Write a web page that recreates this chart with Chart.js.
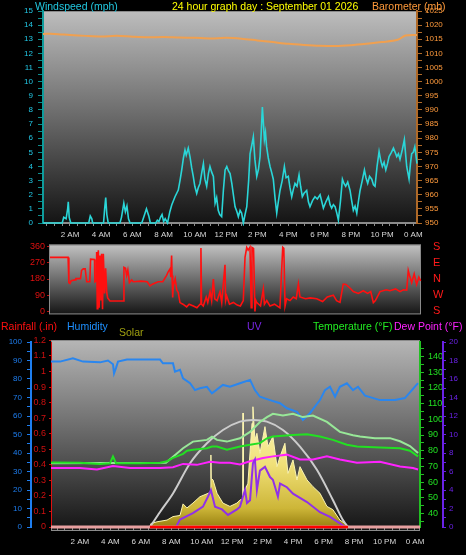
<!DOCTYPE html>
<html><head><meta charset="utf-8">
<script src="https://cdn.jsdelivr.net/npm/chart.js@4.4.1/dist/chart.umd.min.js"></script>
<style>
html,body{margin:0;padding:0;background:#000;}
body{width:466px;height:555px;overflow:hidden;position:relative;font-family:"Liberation Sans",Arial,sans-serif;}
canvas{position:absolute;left:0;}
.t{position:absolute;font-size:10.5px;line-height:12px;white-space:nowrap;}
</style></head><body>
<canvas id="wind" width="466" height="245" style="top:0"></canvas>
<canvas id="dir" width="466" height="102" style="top:228px"></canvas>
<canvas id="wx" width="466" height="225" style="top:330px"></canvas>
<div class="t" style="left:35px;top:0;color:#22c8e0">Windspeed (mph)</div>
<div class="t" style="left:172px;top:0;color:#ffff00">24 hour graph day : September 01 2026</div>
<div class="t" style="left:372px;top:0;color:#ff9a3a">Barometer (mb)</div>
<div class="t" style="left:1px;top:320px;color:#ff1010">Rainfall (.in)</div>
<div class="t" style="left:67px;top:320px;color:#1e90ff">Humidity</div>
<div class="t" style="left:119px;top:326px;color:#a0a010">Solar</div>
<div class="t" style="left:247px;top:320px;color:#7a26e6">UV</div>
<div class="t" style="left:313px;top:320px;color:#22ee22">Temperature (°F)</div>
<div class="t" style="left:394px;top:320px;color:#ff22ff">Dew Point (°F)</div>
<script>
// ---------- tick labels ----------
const hourTickValues = [2,4,6,8,10,12,14,16,18,20,22,24];
const hourTickLabels = ['2 AM','4 AM','6 AM','8 AM','10 AM','12 PM','2 PM','4 PM','6 PM','8 PM','10 PM','0 AM'];
const compassLetters = ['S','W','N','E','S']; // 0, 90, 180, 270, 360

// ---------- wind speed (mph) ----------
const windHours = [
 0.27,1.5,1.6,1.75,1.85,1.89,1.95,2.05,
 3.2,3.3,3.4,3.45,
 4.15,4.22,4.29,4.36,4.45,
 5.2,5.3,5.45,5.55,5.65,5.75,5.85,
 6.6,6.75,6.9,7.05,7.15,
 7.5,7.6,7.7,7.8,7.9,8.0,8.1,8.25,
 8.4,8.52,8.73,8.94,9.05,9.16,9.27,9.37,9.45,9.58,
 9.69,9.8,9.9,10.0,10.12,10.22,10.33,10.45,10.55,10.65,
 10.76,10.87,10.97,11.08,11.19,11.3,11.4,11.5,11.6,11.72,
 11.83,11.94,12.05,12.15,12.26,12.37,12.58,12.7,12.79,12.9,
 13.0,13.11,13.22,13.33,13.45,13.54,13.65,13.75,13.85,13.97,
 14.08,14.18,14.26,14.33,14.4,14.46,14.53,14.6,14.71,14.82,
 14.92,15.03,15.14,15.25,15.35,15.46,15.6,15.74,15.85,15.99,
 16.1,16.21,16.32,16.42,16.55,16.68,16.78,16.89,17.0,17.17,
 17.28,17.38,17.55,17.7,17.85,18.03,18.14,18.24,18.4,18.56,
 18.67,18.77,18.88,18.99,19.1,19.2,19.33,19.46,19.56,19.67,
 19.8,19.95,20.05,20.16,20.27,20.38,20.48,20.59,20.73,20.87,
 20.97,21.08,21.2,21.34,21.45,21.55,21.68,21.81,21.92,22.02,
 22.13,22.24,22.35,22.45,22.6,22.73,22.84,22.94,23.05,23.15,
 23.3,23.43,23.5,23.58,23.73,23.82,23.9,24.0,24.1,24.24];
const windMph = [
 0,0,0.4,0.3,1.0,1.5,0.4,0,
 0,0.5,0.3,0,
 0,1.0,1.8,0.6,0,
 0,0.4,1.4,0.8,1.2,0.3,0,
 0,0.5,1.0,0.5,0,
 0,0.2,0.1,0.4,0.6,0.1,0.3,0,
 0.8,1.27,1.86,2.33,3.0,3.75,4.6,5.17,4.8,5.3,
 4.7,3.9,3.3,2.6,2.1,2.5,2.8,3.6,4.2,3.1,
 2.6,3.5,4.0,3.6,3.3,1.4,1.8,0.9,0.6,0.45,
 2.3,3.75,4.0,3.7,3.5,2.8,1.15,0.8,0.45,0.9,
 0.7,0,0.6,1.15,3.0,4.9,5.5,6.1,4.5,3.3,
 3.8,4.7,6.5,8.2,7.0,5.9,6.4,5.4,4.6,4.0,
 3.6,3.1,1.8,0.7,1.5,2.3,3.0,4.0,3.2,3.3,
 2.5,1.86,2.4,2.8,2.6,3.4,2.6,1.86,2.1,2.3,
 1.5,1.15,1.6,1.86,1.7,2.0,1.5,1.05,1.5,1.86,
 1.3,1.05,1.3,1.15,0.7,0.2,1.5,3.1,2.8,2.6,
 2.9,2.3,1.6,0.9,1.2,0.7,1.5,2.3,3.0,3.75,
 3.2,2.8,3.3,3.1,2.7,2.6,4.0,5.05,4.4,4.0,
 4.3,3.75,4.2,4.7,5.0,5.3,5.0,4.7,4.9,4.5,
 5.2,5.9,5.0,4.0,3.1,4.2,4.9,5.0,5.4,4.2];

// ---------- barometer (mb) ----------
const baroHours = [0.27,1,2,3,4,5,6,7,8,9,10,11,12,13,14,15,16,17,18,19,20,21,22,23,23.5,24.24];
const baroMb = [1016.9,1016.9,1016.5,1016.2,1016.0,1016.2,1015.9,1015.7,1015.8,1015.6,1015.5,1015.3,1015.5,1015.2,1014.6,1014.0,1013.4,1013.0,1012.7,1012.6,1012.9,1013.4,1014.0,1014.8,1016.3,1016.5];

// ---------- wind direction (deg) ----------
const dirHours = [
 0.33,1.50,1.55,1.62,1.70,1.95,2.0,2.3,2.37,2.48,
 2.6,2.70,2.9,2.95,3.2,3.23,3.30,3.34,3.38,3.42,
 3.45,3.50,3.56,3.62,3.66,3.72,3.77,3.85,3.92,3.99,
 4.05,4.20,5.05,5.10,5.2,5.27,5.35,5.45,5.6,5.7,
 6.2,6.6,6.78,6.9,7.3,7.6,7.85,7.95,8.07,8.12,
 8.17,8.2,8.24,8.28,8.4,8.5,8.6,8.71,8.9,9.14,
 9.3,9.57,9.8,10.0,10.06,10.1,10.21,10.4,10.5,10.65,
 10.75,10.86,10.95,11.1,11.29,11.4,11.61,11.65,11.72,11.9,
 12.15,12.4,12.6,12.79,12.9,13.01,13.1,13.22,13.3,13.35,
 13.45,13.54,13.6,13.65,13.9,14.08,14.15,14.3,14.51,14.8,
 15.15,15.33,15.4,15.48,15.58,15.8,16.01,16.2,16.34,16.44,
 16.8,17.1,17.52,17.9,18.2,18.59,18.8,19.02,19.23,19.4,
 19.66,19.88,20.2,20.52,20.8,21.0,21.17,21.3,21.60,22.0,
 22.24,22.6,22.89,23.1,23.32,23.42,23.5,23.64,23.8,23.96,
 24.1,24.22];
const dirDeg = [
 300,300,160,155,170,175,182,182,228,236,
 236,165,165,290,288,165,170,330,15,300,
 340,20,311,60,320,12,320,100,240,105,
 75,58,58,245,240,200,230,160,175,165,
 168,165,142,150,165,165,200,220,236,190,
 311,200,77,142,180,120,105,49,40,25,
 40,30,20,40,352,40,30,80,50,110,
 60,180,70,60,110,50,259,60,86,40,
 50,35,30,60,300,355,340,357,20,355,
 350,0,60,50,30,124,40,60,30,40,
 20,356,350,30,70,60,80,70,152,80,
 70,75,70,55,80,90,60,50,152,150,
 130,110,100,115,100,110,49,60,110,120,
 115,125,110,120,118,227,200,160,208,150,
 190,170];

// ---------- bottom panel ----------
const humHours = [0.10,0.69,1.54,2.20,3.32,3.84,4.17,4.24,4.37,4.50,5.09,7.26,7.45,8.11,8.24,8.57,8.77,9.23,9.55,9.88,10.34,10.67,11.39,11.85,12.51,13.17,13.49,13.82,14.48,15.14,15.59,16.25,16.64,17.10,17.76,18.09,18.42,18.75,19.07,19.53,19.93,20.26,20.72,21.70,22.69,23.34,23.80,24.20];
const humPct = [89.4,89.4,91.2,89.4,89,90,88,83,86,89.4,90.5,90.5,88.5,88.5,84,85,80.4,77.7,74,75,75.8,72.3,76.8,75.8,77.7,79.5,74,70.4,68.6,66.9,64.2,62.3,57.8,61.5,68.6,74,75.8,70.4,75.8,77.7,74,75.8,71,68.6,68.6,69.7,74,77.8];

const tempHours = [0.10,2.00,3.32,3.97,4.17,4.37,5.94,7.26,7.72,8.11,8.77,9.03,9.42,10.34,10.67,11.00,11.65,12.51,13.17,13.82,14.28,14.67,15.99,16.91,17.76,18.61,19.53,20.19,21.70,23.02,23.67,24.20];
const tempF = [72.5,72.3,71.5,72,76.4,72,72,72.3,73.3,75.4,78,80,80.6,81.6,82.7,82.7,80.6,82.7,83.8,84.8,87.9,89,90,90.5,89,86.9,83.8,82.7,82,81.6,80,76.4];

const feelsHours = [0.10,7.65,8.77,9.42,10.34,10.67,11.00,11.65,12.51,13.17,13.82,14.28,14.67,15.33,15.99,16.64,17.30,18.22,19.07,19.93,20.39,21.37,22.36,23.02,23.67,24.20];
const feelsF = [72,72.3,81.6,85.8,86.9,89,86.9,85.8,87.9,92,98.3,101.4,103.5,102.4,103.5,101.4,102.4,98.3,92,89.8,89,88,88,86,83,78.5];

const dewHours = [0.10,2.00,3.12,4.17,5.29,7.26,8.11,8.77,9.68,10.54,11.19,11.85,12.51,13.17,14.02,14.67,15.59,16.45,17.30,18.22,19.07,20.19,21.70,23.02,23.87,24.20];
const dewF = [69,69,68,70.2,69,69,69.5,71.6,71,73,72.3,72.3,71.3,73.3,75.4,76.4,77.5,74.4,74.4,76.4,74.4,72.3,73,70,69,68];

const uvHours = [8.31,8.37,8.57,9.42,10.08,10.41,10.60,10.87,11.33,11.72,12.31,12.51,12.84,12.97,13.17,13.36,13.49,13.62,13.82,14.15,14.48,14.67,15.00,15.14,15.59,15.99,16.91,17.76,18.42,19.07,19.40];
const uvIndex = [0,0.2,0.8,1.5,2.2,3.3,4.0,2.2,1.9,1.3,1.9,2.2,4.0,2.6,2.9,6.9,7.3,4.0,6.1,6.5,5.4,5.1,3.3,4.7,4.3,3.6,2.7,1.6,1.1,0.4,0];

const solarHours = [6.60,6.66,7.06,7.72,8.11,8.57,8.77,9.03,9.42,9.88,10.58,10.60,10.62,10.74,11.00,11.39,11.85,12.31,12.51,12.69,12.71,12.73,12.84,13.03,13.30,13.36,13.49,13.62,13.82,14.15,14.35,14.67,14.94,15.14,15.46,15.66,15.99,16.25,16.45,16.91,17.30,17.76,18.22,18.61,19.07,19.53,19.66];
const solarWm2 = [0,30,45,60,90,100,200,165,207,262,300,623,420,407,292,207,178,207,234,240,986,300,320,378,897,1040,753,810,637,868,695,782,522,609,724,464,580,407,522,407,349,292,178,150,60,20,0];

const solarMaxHours = [6.60,7.26,8.11,9.23,10.34,11.39,12.51,13.36,14.28,15.33,16.45,17.57,18.61,19.27,19.60];
const solarMaxWm2 = [0,130,290,551,724,839,911,925,911,839,695,493,234,60,0];

const rainHours = [0.10,24.33];
const rainIn = [0,0];
const daylightHours = [6.60,19.60];
const daylightIn = [0,0];

// ---------- helpers ----------
const NARROW = '"Liberation Sans Narrow","Liberation Sans",Arial,sans-serif';
Chart.defaults.font.family = NARROW;
Chart.defaults.font.size = 8;
Chart.defaults.animation = false;
const pts = (xs, ys) => xs.map((x, i) => ({x, y: ys[i]}));
const stepTicks = (a, b, s) => sc => { const t = []; for (let i = 0; a + i * s <= b + 1e-9; i++) t.push({value: Math.round((a + i * s) * 1000) / 1000}); sc.ticks = t; };

const bgPlugin = {
  id: 'bg',
  beforeDraw(chart, args, o) {
    const {ctx, chartArea: a} = chart;
    const top = a.top - (o.extTop || 0), bot = a.bottom + (o.extBottom || 0);
    const g = ctx.createLinearGradient(0, top, 0, bot);
    o.stops.forEach(([p, c]) => g.addColorStop(p, c));
    ctx.save();
    ctx.fillStyle = g;
    ctx.fillRect(a.left, top, a.right - a.left, bot - top);
    ctx.strokeStyle = o.frame; ctx.lineWidth = 1;
    ctx.strokeRect(a.left + 0.5, top + 0.5, a.right - a.left - 1, bot - top - 1);
    ctx.restore();
  }
};

function xAxis(min, max, height, tickLength, padding, display) {
  return {
    type: 'linear', min, max, display, position: 'bottom',
    afterBuildTicks: stepTicks(Math.ceil(min * 2) / 2, max, 0.5),
    ticks: { autoSkip: false, maxRotation: 0, color: '#d8d8d8', padding,
      callback: v => { const i = hourTickValues.indexOf(v); return i >= 0 ? hourTickLabels[i] : ''; } },
    grid: { drawOnChartArea: false, tickLength, tickColor: '#8c8c8c' },
    border: { color: '#8c8c8c' },
    afterFit: s => { s.height = height; }
  };
}
const line = (data, color, width, axis, extra) => Object.assign({
  data, borderColor: color, borderWidth: width, pointRadius: 0, tension: 0, yAxisID: axis, fill: false
}, extra || {});

// ---------- chart 1: wind speed + barometer ----------
new Chart(document.getElementById('wind'), {
  type: 'line',
  data: { datasets: [
    line(pts(baroHours, baroMb), '#f0a050', 2, 'baro', {tension: 0.3}),
    line(pts(windHours, windMph), '#2ad6d8', 1.6, 'wind', {clip: 3})
  ]},
  options: {
    responsive: false, devicePixelRatio: 1, parsing: false,
    layout: { padding: { top: 11, left: 0, right: 0, bottom: 0 } },
    plugins: { legend: {display: false}, tooltip: {enabled: false},
      bg: { stops: [[0, '#bdbdbd'], [0.45, '#727272'], [1, '#141414']], extTop: 0, extBottom: 0, frame: '#8a8a8a' } },
    scales: {
      x: xAxis(0.27, 24.24, 22, 3, 4, true),
      wind: { position: 'left', min: 0, max: 15,
        afterBuildTicks: stepTicks(0, 15, 0.5),
        ticks: { autoSkip: false, color: '#22c8e6', padding: 5, callback: v => Number.isInteger(v) ? v : '' },
        grid: { drawOnChartArea: false, tickLength: 5, tickColor: '#0e8c8c' },
        border: { color: '#0e9c9c', width: 2 },
        afterFit: s => { s.width = 43; } },
      baro: { position: 'right', min: 950, max: 1025,
        afterBuildTicks: stepTicks(950, 1025, 2.5),
        ticks: { autoSkip: false, color: '#ff9a3c', padding: 3, callback: v => v % 5 === 0 ? v : '' },
        grid: { drawOnChartArea: false, tickLength: 5, tickColor: '#b06a28' },
        border: { color: '#b06a28', width: 2 },
        afterFit: s => { s.width = 49; } }
    }
  },
  plugins: [bgPlugin]
});

// ---------- chart 2: wind direction ----------
new Chart(document.getElementById('dir'), {
  type: 'line',
  data: { datasets: [ line(pts(dirHours, dirDeg), '#ff1010', 1.6, 'deg', {clip: 2}) ] },
  options: {
    responsive: false, devicePixelRatio: 1, parsing: false,
    layout: { padding: { top: 18, left: 0, right: 0, bottom: 0 } },
    plugins: { legend: {display: false}, tooltip: {enabled: false},
      bg: { stops: [[0, '#c2c2c2'], [0.5, '#6c6c6c'], [1, '#151515']], extTop: 2, extBottom: 3, frame: '#8a8a8a' } },
    scales: {
      x: { type: 'linear', min: 0.27, max: 24.24, display: false },
      deg: { position: 'left', min: 0, max: 360,
        afterBuildTicks: stepTicks(0, 360, 90),
        ticks: { autoSkip: false, color: '#e01010', padding: 2, font: {size: 9} },
        grid: { drawOnChartArea: false, tickLength: 2, tickColor: '#c01010' },
        border: { color: '#8a8a8a' },
        afterFit: s => { s.width = 49; } },
      comp: { position: 'right', min: 0, max: 360,
        afterBuildTicks: stepTicks(0, 360, 90),
        ticks: { autoSkip: false, color: '#ff1a1a', padding: 12, font: {size: 11, family: '"Liberation Sans",Arial,sans-serif'},
          callback: v => compassLetters[Math.round(v / 90)] },
        grid: { display: false, drawTicks: false },
        border: { display: false },
        afterFit: s => { s.width = 45; } }
    }
  },
  plugins: [bgPlugin]
});

// ---------- chart 3: rain, humidity, solar, UV, temperature, dew point ----------
new Chart(document.getElementById('wx'), {
  type: 'line',
  data: { datasets: [
    line(pts(solarHours, solarWm2), '#fbf4b0', 1, 'sol', { fill: 'origin', order: 10,
      backgroundColor: c => { const a = c.chart.chartArea; if (!a) return '#e8d868';
        const g = c.chart.ctx.createLinearGradient(0, a.top + 60, 0, a.bottom);
        g.addColorStop(0, '#fffbc8'); g.addColorStop(0.5, '#f0e078'); g.addColorStop(0.85, '#cdb638'); g.addColorStop(1, '#988010'); return g; } }),
    line(pts(solarMaxHours, solarMaxWm2), '#cccccc', 2, 'sol', { order: 9, cubicInterpolationMode: 'monotone' }),
    line(pts(humHours, humPct), '#2a86ee', 2, 'hum', { order: 6 }),
    line(pts(feelsHours, feelsF), '#98e898', 2, 'temp', { order: 5 }),
    line(pts(tempHours, tempF), '#22e022', 2, 'temp', { order: 4 }),
    line(pts(dewHours, dewF), '#ff22ff', 2, 'temp', { order: 3 }),
    line(pts(uvHours, uvIndex), '#9030e8', 2, 'uv', { order: 2 }),
    line(pts(rainHours, rainIn), '#e8a0a0', 3, 'rain', { order: 1, clip: 5 }),
    line(pts(daylightHours, daylightIn), '#ff0000', 2.5, 'rain', { order: 0, clip: 5 })
  ]},
  options: {
    responsive: false, devicePixelRatio: 1, parsing: false,
    layout: { padding: { top: 12, left: 0, right: 0, bottom: 0 } },
    plugins: { legend: {display: false}, tooltip: {enabled: false},
      bg: { stops: [[0, '#b6b6b6'], [0.45, '#6e6e6e'], [1, '#141414']], extTop: 2, extBottom: 4, frame: '#8a8a8a' } },
    scales: {
      x: xAxis(0.10, 24.33, 28, 4, 6, true),
      rain: { position: 'left', min: 0, max: 1.19,
        afterBuildTicks: stepTicks(0, 1.2, 0.1),
        ticks: { autoSkip: false, color: '#d01010', padding: 3, font: {size: 9}, callback: v => String(v) },
        grid: { drawOnChartArea: false, tickLength: 2, tickColor: '#d01010' },
        border: { color: '#e01010', dash: [1, 2] },
        afterFit: s => { s.width = 20; } },
      hum: { position: 'left', min: 0, max: 100,
        afterBuildTicks: stepTicks(0, 100, 5),
        ticks: { autoSkip: false, color: '#1e7ef0', padding: 5, callback: v => v % 10 === 0 ? v : '' },
        grid: { drawOnChartArea: false, tickLength: 4, tickColor: '#1e7ef0' },
        border: { color: '#1e7ef0', width: 2 },
        afterFit: s => { s.width = 31; } },
      temp: { position: 'right', min: 31.44, max: 149.2,
        afterBuildTicks: stepTicks(35, 145, 5),
        ticks: { autoSkip: false, color: '#22e022', padding: 4, font: {size: 9}, callback: v => (v % 10 === 0 && v >= 40) ? v : '' },
        grid: { drawOnChartArea: false, tickLength: 4, tickColor: '#22c022' },
        border: { color: '#22c022', width: 2 },
        afterFit: s => { s.width = 23; } },
      uv: { position: 'right', min: 0, max: 20,
        afterBuildTicks: stepTicks(0, 20, 1),
        ticks: { autoSkip: false, color: '#6a22e6', padding: 3, callback: v => v % 2 === 0 ? v : '' },
        grid: { drawOnChartArea: false, tickLength: 3, tickColor: '#6a22e6' },
        border: { color: '#6a22e6', width: 2 },
        afterFit: s => { s.width = 23; } },
      sol: { display: false, min: 0, max: 1600 }
    }
  },
  plugins: [bgPlugin]
});
</script>
</body></html>
